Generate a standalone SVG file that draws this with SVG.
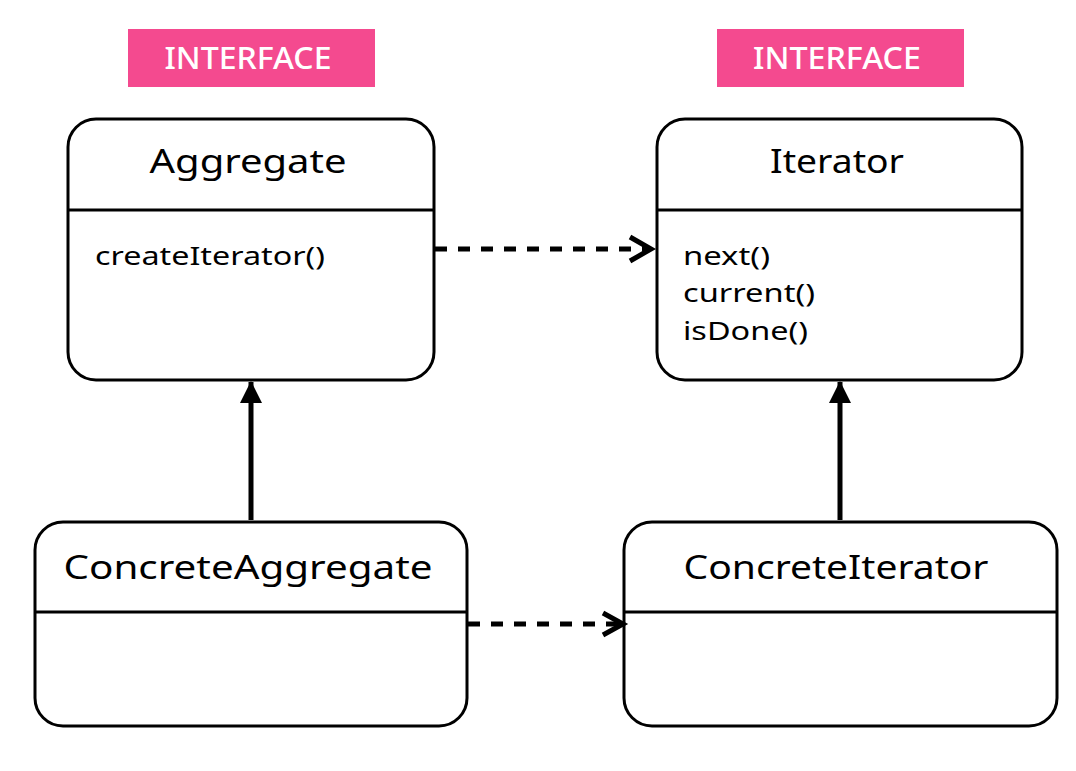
<svg xmlns="http://www.w3.org/2000/svg" width="1076" height="771" viewBox="0 0 1076 771">
  <style>
    .box { fill: #ffffff; stroke: #000000; stroke-width: 3; }
    .div { stroke: #000000; stroke-width: 3; }
    .badge { fill: #f44a8f; }
    .badgeText { font-family: "Noto Sans", "Open Sans", sans-serif; font-size: 31px; font-weight: 500; fill: #ffffff; text-anchor: middle; }
    .title { font-family: "Noto Sans", "Open Sans", sans-serif; font-size: 33px; fill: #000000; text-anchor: middle; }
    .member { font-family: "Noto Sans", "Open Sans", sans-serif; font-size: 26px; fill: #000000; }
    .solid { stroke: #000000; stroke-width: 5; fill: none; }
    .dashed { stroke: #000000; stroke-width: 5; fill: none; stroke-dasharray: 12 11; }
    .chev { stroke: #000000; stroke-width: 5; fill: none; stroke-linecap: butt; stroke-linejoin: miter; }
  </style>
  <defs>
    <marker id="tri" viewBox="0 0 22 22" refX="21" refY="11" markerWidth="22" markerHeight="22" markerUnits="userSpaceOnUse" orient="auto">
      <path d="M0,0 L22,11 L0,22 Z" fill="#000000"/>
    </marker>
  </defs>
  <rect width="1076" height="771" fill="#ffffff"/>

  <g id="badge-aggregate">
    <rect class="badge" x="128" y="29" width="247" height="58"/>
    <text class="badgeText" x="248" y="69" textLength="167" lengthAdjust="spacingAndGlyphs">INTERFACE</text>
  </g>
  <g id="badge-iterator">
    <rect class="badge" x="717" y="29" width="247" height="58"/>
    <text class="badgeText" x="837" y="69" textLength="168" lengthAdjust="spacingAndGlyphs">INTERFACE</text>
  </g>

  <g id="aggregate">
    <rect class="box" x="68" y="119" width="366" height="261" rx="28" ry="28"/>
    <line class="div" x1="68" y1="210" x2="434" y2="210"/>
    <text class="title" x="248" y="173" textLength="197" lengthAdjust="spacingAndGlyphs">Aggregate</text>
    <text class="member" x="95" y="265" textLength="230" lengthAdjust="spacingAndGlyphs">createIterator()</text>
  </g>

  <g id="iterator">
    <rect class="box" x="657" y="119" width="365" height="261" rx="28" ry="28"/>
    <line class="div" x1="657" y1="210" x2="1022" y2="210"/>
    <text class="title" x="837" y="173" textLength="134" lengthAdjust="spacingAndGlyphs">Iterator</text>
    <text class="member" x="683" y="265" textLength="87" lengthAdjust="spacingAndGlyphs">next()</text>
    <text class="member" x="683" y="302" textLength="132" lengthAdjust="spacingAndGlyphs">current()</text>
    <text class="member" x="683" y="340" textLength="125" lengthAdjust="spacingAndGlyphs">isDone()</text>
  </g>

  <g id="concrete-aggregate">
    <rect class="box" x="35" y="522" width="432" height="204" rx="28" ry="28"/>
    <line class="div" x1="35" y1="612" x2="467" y2="612"/>
    <text class="title" x="248" y="579" textLength="369" lengthAdjust="spacingAndGlyphs">ConcreteAggregate</text>
  </g>

  <g id="concrete-iterator">
    <rect class="box" x="624" y="522" width="433" height="204" rx="28" ry="28"/>
    <line class="div" x1="624" y1="612" x2="1057" y2="612"/>
    <text class="title" x="836" y="579" textLength="305" lengthAdjust="spacingAndGlyphs">ConcreteIterator</text>
  </g>

  <g id="connectors">
    <line class="solid" x1="251" y1="520" x2="251" y2="382" marker-end="url(#tri)"/>
    <line class="solid" x1="840" y1="520" x2="840" y2="382" marker-end="url(#tri)"/>
    <line class="dashed" x1="435" y1="249" x2="650" y2="249"/>
    <polyline class="chev" points="630,237 651,249 630,261"/>
    <line class="dashed" x1="468" y1="624" x2="622" y2="624"/>
    <polyline class="chev" points="603,613 623,624 603,635"/>
  </g>
</svg>
